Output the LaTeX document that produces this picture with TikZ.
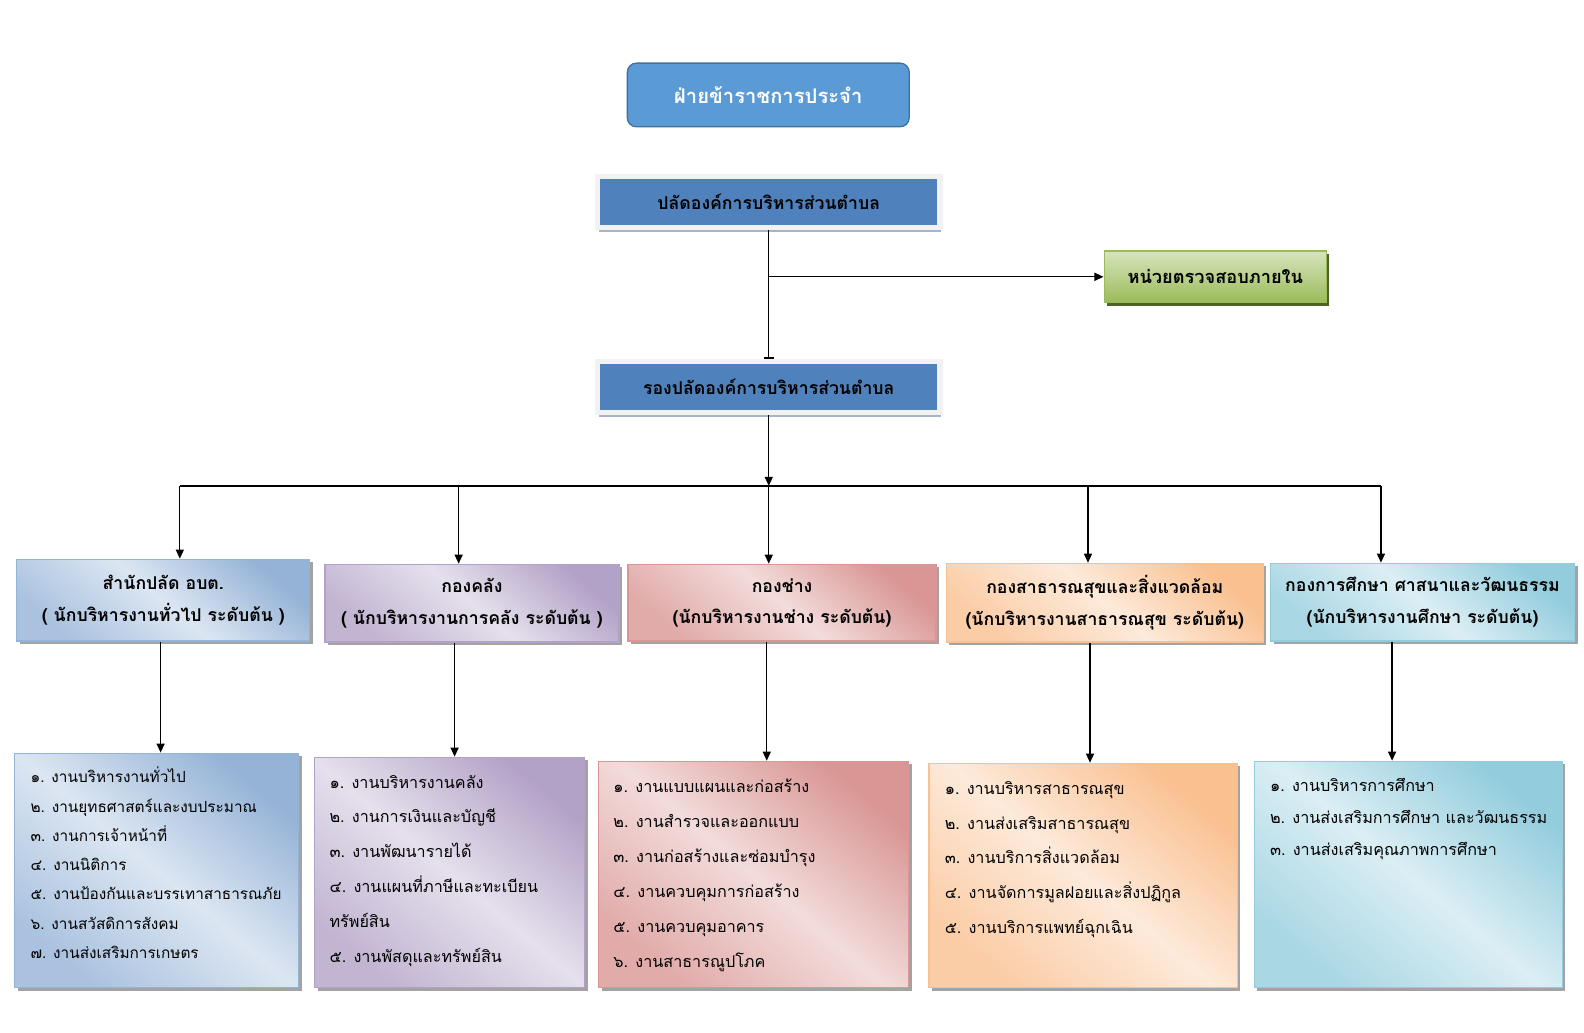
\documentclass[tikz,border=0pt]{standalone}
\usepackage{fontspec}
\setmainfont[Script=Thai]{Loma}
\usetikzlibrary{positioning, shadows, arrows.meta}

\definecolor{topfill}{HTML}{5B9BD5}
\definecolor{topdraw}{HTML}{41719C}
\definecolor{headfill}{HTML}{4F81BD}
\definecolor{headshade}{HTML}{A7B3C7}
\definecolor{auditlight}{HTML}{D7E4BD}
\definecolor{auditdark}{HTML}{9BBB59}
\definecolor{auditshade}{HTML}{4F6228}
\definecolor{bluel}{HTML}{DCE6F2}
\definecolor{blued}{HTML}{95B3D7}
\definecolor{purplel}{HTML}{E5E0EC}
\definecolor{purpled}{HTML}{B3A2C7}
\definecolor{redl}{HTML}{F2DCDB}
\definecolor{redd}{HTML}{D99694}
\definecolor{orangel}{HTML}{FDEADA}
\definecolor{oranged}{HTML}{FAC090}
\definecolor{teall}{HTML}{DBEEF4}
\definecolor{teald}{HTML}{93CDDD}

\tikzset{
	conn/.style={
		line width=1.3pt,
		-{Triangle[length=9pt, width=8pt]}
	},
	topbox/.style={
		rounded corners=9pt,
		fill=topfill,
		draw=topdraw,
		line width=1.3pt,
		text=white,
		font=\bfseries\fontsize{20}{24}\selectfont,
		minimum width=279pt,
		minimum height=63pt
	},
	headbox/.style={
		fill=headfill,
		draw=black!5,
		line width=5pt,
		minimum width=339pt,
		minimum height=51pt,
		font=\bfseries\fontsize{17.5}{21}\selectfont,
		drop shadow={shadow xshift=1pt, shadow yshift=-4pt, fill=headshade, opacity=1}
	},
	auditbox/.style={
		top color=auditlight,
		bottom color=auditdark,
		draw=auditdark,
		line width=1.3pt,
		minimum width=220pt,
		minimum height=51pt,
		font=\bfseries\fontsize{18}{21}\selectfont,
		drop shadow={shadow xshift=3pt, shadow yshift=-3pt, fill=auditshade, opacity=1}
	},
	dept/.style 2 args={
		anchor=north west,
		top color=#2,
		bottom color=#2!70!#1,
		middle color=#1,
		shading angle=-40,
		draw=#2,
		line width=1.3pt,
		drop shadow={shadow xshift=3pt, shadow yshift=-3pt, fill=black!45, opacity=0.8}
	},
	depttxt/.style={
		align=center,
		font=\bfseries\fontsize{17.5}{31}\selectfont
	},
	listtxt/.style={
		align=left,
		inner sep=0pt,
		font=\fontsize{16}{29}\selectfont
	}
}

\begin{document}
\begin{tikzpicture}[x=1pt, y=-1pt]
	\useasboundingbox (0,0) rectangle (1568,1022);

	\node [topbox] (top) at (760.5,94) {ฝ่ายข้าราชการประจำ};
	\node [headbox] (pa) at (761,200) {ปลัดองค์การบริหารส่วนตำบล};
	\node [auditbox] (audit) at (1203,274) {หน่วยตรวจสอบภายใน};
	\node [headbox] (ro) at (761,383) {รองปลัดองค์การบริหารส่วนตำบล};

	\node [dept={bluel}{blued}, minimum width=290pt, minimum height=81pt] (d1) at (16,553) {};
	\node [dept={purplel}{purpled}, minimum width=291pt, minimum height=77pt] (d2) at (321,558) {};
	\node [dept={redl}{redd}, minimum width=305pt, minimum height=76pt] (d3) at (621,558) {};
	\node [dept={orangel}{oranged}, minimum width=314pt, minimum height=78pt] (d4) at (936,557) {};
	\node [dept={teall}{teald}, minimum width=301pt, minimum height=77pt] (d5) at (1257,557) {};

	\node [depttxt] at (d1) {สำนักปลัด อบต.\\( นักบริหารงานทั่วไป ระดับต้น )};
	\node [depttxt] at (d2) {กองคลัง\\( นักบริหารงานการคลัง ระดับต้น )};
	\node [depttxt] at (d3) {กองช่าง\\(นักบริหารงานช่าง ระดับต้น)};
	\node [depttxt] at (d4) {กองสาธารณสุขและสิ่งแวดล้อม\\(นักบริหารงานสาธารณสุข ระดับต้น)};
	\node [depttxt] at (d5) {กองการศึกษา ศาสนาและวัฒนธรรม\\(นักบริหารงานศึกษา ระดับต้น)};

	\node [dept={bluel}{blued}, minimum width=281pt, minimum height=232pt] (l1) at (14,745) {};
	\node [dept={purplel}{purpled}, minimum width=267pt, minimum height=228pt] (l2) at (311,749) {};
	\node [dept={redl}{redd}, minimum width=307pt, minimum height=224pt] (l3) at (592,753) {};
	\node [dept={orangel}{oranged}, minimum width=305pt, minimum height=222pt] (l4) at (919,755) {};
	\node [dept={teall}{teald}, minimum width=305pt, minimum height=224pt] (l5) at (1241,753) {};

	\node [listtxt, font=\fontsize{15.2}{29}\selectfont, below right=14pt and 16pt of l1.north west] (t1) {๑. งานบริหารงานทั่วไป\\๒. งานยุทธศาสตร์และงบประมาณ\\๓. งานการเจ้าหน้าที่\\๔. งานนิติการ\\๕. งานป้องกันและบรรเทาสาธารณภัย\\๖. งานสวัสดิการสังคม\\๗. งานส่งเสริมการเกษตร};
	\node [listtxt, font=\fontsize{16}{34.6}\selectfont, below right=18pt and 15pt of l2.north west] (t2) {๑. งานบริหารงานคลัง\\๒. งานการเงินและบัญชี\\๓. งานพัฒนารายได้\\๔. งานแผนที่ภาษีและทะเบียน\\ทรัพย์สิน\\๕. งานพัสดุและทรัพย์สิน};
	\node [listtxt, font=\fontsize{16}{34.6}\selectfont, below right=18pt and 15pt of l3.north west] (t3) {๑. งานแบบแผนและก่อสร้าง\\๒. งานสำรวจและออกแบบ\\๓. งานก่อสร้างและซ่อมบำรุง\\๔. งานควบคุมการก่อสร้าง\\๕. งานควบคุมอาคาร\\๖. งานสาธารณูปโภค};
	\node [listtxt, font=\fontsize{16}{34.6}\selectfont, below right=18pt and 16pt of l4.north west] (t4) {๑. งานบริหารสาธารณสุข\\๒. งานส่งเสริมสาธารณสุข\\๓. งานบริการสิ่งแวดล้อม\\๔. งานจัดการมูลฝอยและสิ่งปฏิกูล\\๕. งานบริการแพทย์ฉุกเฉิน};
	\node [listtxt, font=\fontsize{16}{32}\selectfont, below right=17pt and 16pt of l5.north west] (t5) {๑. งานบริหารการศึกษา\\๒. งานส่งเสริมการศึกษา และวัฒนธรรม\\๓. งานส่งเสริมคุณภาพการศึกษา};

	\draw [line width=1.3pt, -{Bar[width=10pt]}] (pa.south) -- (ro.north);
	\draw [conn] (pa.south |- audit.west) -- (audit.west);

	\foreach \i/\x in {1/178, 2/454, 3/761, 4/1077, 5/1367}
		\coordinate (b\i) at (\x,481);
	\draw [line width=1.3pt] (b1) -- (b5);
	\draw [conn] (ro.south) -- (b3);
	\foreach \i in {1,...,5}
		\draw [conn] (b\i) -- (b\i |- d\i.north);

	\foreach \i/\x in {1/159, 2/450, 3/759, 4/1079, 5/1378} {
		\coordinate (c\i) at (\x,0);
		\draw [conn] (d\i.south -| c\i) -- (l\i.north -| c\i);
	}
\end{tikzpicture}
\end{document}
